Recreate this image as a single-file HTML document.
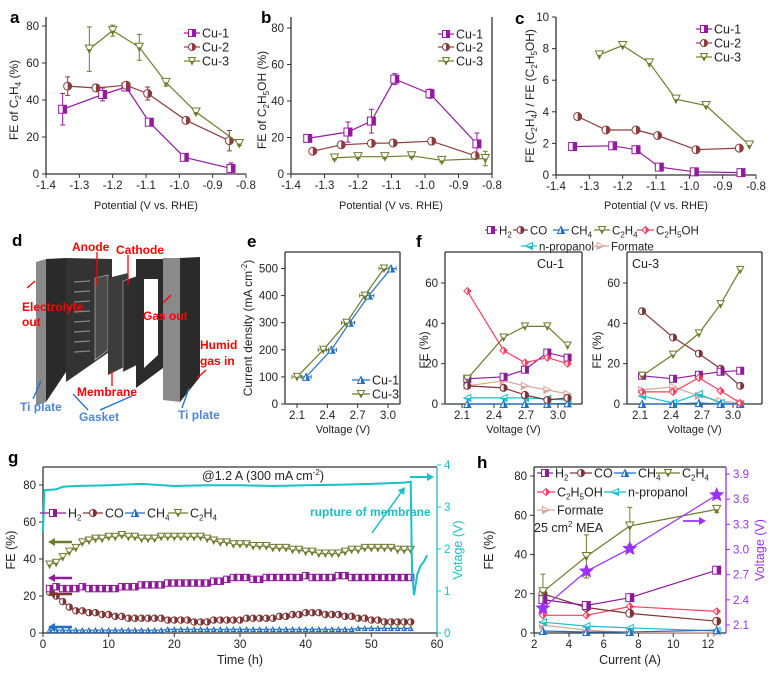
<!DOCTYPE html>
<html><head><meta charset="utf-8"><style>
html,body{margin:0;padding:0;background:#fff}
svg{display:block;font-family:"Liberation Sans",Arial,sans-serif}
</style></head><body>
<svg id="fig" width="774" height="674" viewBox="0 0 774 674" xmlns="http://www.w3.org/2000/svg">
<g id="schem">
  <polygon points="36,262 46,259 46,402 36,406" fill="#8a8a8a"/>
  <polygon points="46,259 66,258 66,372 46,402" fill="#2a2a2a"/>
  <polygon points="66,258 112,259 112,350 66,382" fill="#333"/>
  <g stroke="#888" stroke-width="1.2">
    <line x1="74" y1="282" x2="90" y2="281"/><line x1="74" y1="292" x2="90" y2="291"/><line x1="74" y1="302" x2="90" y2="301"/><line x1="74" y1="312" x2="90" y2="311"/><line x1="74" y1="322" x2="90" y2="321"/><line x1="74" y1="332" x2="90" y2="331"/><line x1="74" y1="342" x2="90" y2="341"/><line x1="74" y1="352" x2="90" y2="351"/>
  </g>
  <polygon points="95,278 108,275 108,350 95,360" fill="#4a4a4a" stroke="#ccc" stroke-width="0.6"/>
  <polygon points="108,278 128,273 128,365 108,375" fill="#3c3c3c"/>
  <polygon points="123,281 137,276 137,365 123,372" fill="#2e2e2e" stroke="#bbb" stroke-width="0.6"/>
  <polygon points="136,259 163,259 163,368 136,388" fill="#2c2c2c"/>
  <polygon points="144,279 158,279 158,355 144,368" fill="#fff"/>
  <polygon points="163,258 180,258 180,402 163,400" fill="#8a8a8a"/>
  <polygon points="180,258 200,257 200,377 180,402" fill="#2a2a2a"/>
  <g stroke="#f00" stroke-width="1.3" fill="none">
    <line x1="97" y1="252" x2="97" y2="286"/>
    <line x1="128" y1="255" x2="128" y2="285"/>
    <line x1="112" y1="386" x2="112" y2="370"/>
    <line x1="35" y1="281" x2="27" y2="288"/>
    <line x1="171" y1="295" x2="163" y2="303"/>
    <line x1="206" y1="370" x2="197" y2="378"/>
  </g>
  <g stroke="#1e6fd0" stroke-width="1.3">
    <line x1="33" y1="399" x2="41" y2="381"/>
    <line x1="88" y1="410" x2="73" y2="394"/>
    <line x1="100" y1="410" x2="132" y2="396"/>
    <line x1="182" y1="408" x2="189" y2="388"/>
  </g>
  <g font-weight="bold" font-size="12" fill="#f00">
    <text x="72" y="251">Anode</text>
    <text x="116" y="254">Cathode</text>
    <text x="22" y="311">Electrolyte</text>
    <text x="22" y="326">out</text>
    <text x="143" y="320">Gas out</text>
    <text x="200" y="349">Humid</text>
    <text x="200" y="365">gas in</text>
    <text x="77" y="396">Membrane</text>
  </g>
  <g font-weight="bold" font-size="12" fill="#4f86d6">
    <text x="20" y="411">Ti plate</text>
    <text x="79" y="421">Gasket</text>
    <text x="178" y="419">Ti plate</text>
  </g>
</g>
</svg>
<script>
// ---------- data ----------
const potX1=[-1.35,-1.23,-1.16,-1.09,-0.985,-0.845];
const potX2=[-1.335,-1.25,-1.16,-1.095,-0.98,-0.85];
const potX3=[-1.27,-1.2,-1.12,-1.04,-0.95,-0.82];
const aCu1=[35,43,47,28,9,3];const aCu1Err=[8.5,3.5,1.5,2,1.5,3];
const aCu2=[47.5,46.5,48,43.5,29,18];const aCu2Err=[5,2,1.5,3.5,1,5.5];
const aCu3=[67.5,77.5,68.5,49.5,33.5,16.5];const aCu3Err=[12,3,7,2,1,1];
const bCu1=[19.5,23,29,52,44,16.5];const bCu1Err=[1,5.5,6.5,3,2.5,6];
const bCu2=[12.5,16,16.8,17,18,10];const bCu2Err=[1,1,1,1,1,1];
const bCu3=[8.8,9.5,9.5,10,7.5,8.5];const bCu3Err=[1,1,1,1,1,4];
const cCu1=[1.8,1.85,1.6,0.5,0.2,0.15];
const cCu2=[3.7,2.85,2.85,2.5,1.6,1.7];
const cCu3=[7.6,8.2,7.1,4.8,4.4,1.9];
const eCu1V=[2.19,2.44,2.62,2.81,3.03];const eCu3V=[2.10,2.36,2.59,2.77,2.96];
const eJ=[100,200,300,400,500];
const f1V=[2.15,2.49,2.69,2.90,3.09];
const f1H2=[12.5,13.5,17,25.5,23];const f1CO=[9,8,4.5,2,3];const f1CH4=[0,0,0,0,0.3];
const f1C2H4=[12.5,33,38.5,38.5,29];const f1EtOH=[56,26.5,20.5,23,20];
const f1Prop=[3,3,3,2.5,2];const f1Form=[9,11.5,9,7,5];
const f3V=[2.12,2.42,2.67,2.88,3.07];
const f3H2=[14,12.5,14.5,16,16.5];const f3CO=[46,33,25,17.5,9];const f3CH4=[0,0,0.5,0,0];
const f3C2H4=[14,24.5,35,49.5,66.5];const f3EtOH=[6,6,13,6.5,0.5];
const f3Prop=[4,0.5,5,0.5,0];const f3Form=[7,8.5,4,1.5,0.5];
const gT=[1,2,3,4,5,6,7,8,9,10,11,12,13,14,15,16,17,18,19,20,21,22,23,24,25,26,27,28,29,30,31,32,33,34,35,36,37,38,39,40,41,42,43,44,45,46,47,48,49,50,51,52,53,54,55,56];
const gC2H4=[37,38,41,44,46,49,50,51,51,52,52,53,52,52,51,51,51,52,52,52,52,52,52,52,51,50,49,49,48,48,48,47,47,47,46,46,46,45,45,44,44,43,43,43,43,44,45,45,46,46,46,46,46,45,45,45];
const gH2=[24,25,24,24,24,25,24,24,24,24,24,25,25,25,26,26,26,26,27,27,27,27,27,27,27,28,28,29,30,30,30,29,29,30,30,30,30,30,30,31,30,30,30,30,31,31,30,30,30,30,30,30,30,30,30,30];
const gCO=[22,20,17,14,12,12,11,11,10,10,9,9,8,8,8,8,8,8,7,7,7,7,6,6,6,7,7,7,7,7,8,8,8,8,8,9,9,10,10,11,11,11,10,10,10,9,9,8,8,7,7,6,6,6,6,6];
const gCH4=[1.5,1.5,1.5,1.5,1.5,1.5,1.5,1.5,1.5,1.5,1.5,1.5,1.5,1.5,1.5,1.5,1.5,1.5,2,2,2,2,2,2,2,2,2,2,2,2,2,2,2,2,2,2,2,2,2,2,2,2,2,2,2,2,2,2.5,2.5,2.5,2.5,2.5,2.5,2.5,2.5,2.5];
const vT=[0,0.2,2,3,5,10,15,20,25,30,35,40,45,50,55,56,56.2,56.5,57,57.5,58,58.5];
const vV=[2.4,3.4,3.42,3.48,3.5,3.52,3.55,3.5,3.52,3.52,3.5,3.52,3.53,3.55,3.58,3.6,1.5,0.9,1.4,1.6,1.7,1.85];
const hI=[2.5,5,7.5,12.5];
const hH2=[17,14,18,32];const hCO=[20,13,10,6];const hCH4=[1,0.5,0.5,1.5];
const hC2H4=[21,39,54.5,63];const hC2H4Err=[9,11,9.5,1.5];
const hEtOH=[9,9,13.5,11];const hProp=[5.5,3.5,2.6,1];const hForm=[4,1.5,0.2,0.1];
const hVolt=[2.30,2.74,3.01,3.65];

// ---------- helpers ----------
const NS='http://www.w3.org/2000/svg';
const svg=document.getElementById('fig');
function mk(tag,attrs,parent){const e=document.createElementNS(NS,tag);for(const k in attrs)e.setAttribute(k,attrs[k]);(parent||svg).appendChild(e);return e;}
function lin(d0,d1,r0,r1){return v=>r0+(v-d0)*(r1-r0)/(d1-d0);}
function sb(t){return '<tspan font-size="8" dy="3">'+t+'</tspan><tspan dy="-3">\u200b</tspan>';}
function sp(t){return '<tspan font-size="8" dy="-5">'+t+'</tspan><tspan dy="5">\u200b</tspan>';}
function T(x,y,html,opts,parent,name){
  const e=mk('text',Object.assign({x:x,y:y,'font-size':11,'text-anchor':'middle',fill:'#222'},opts||{}),parent);
  e.innerHTML=html;
  
  
  return e;}
function grp(name){const g=mk('g',{});
  
  
  return g;}
const C={cu1:'#951a9e',cu2:'#8e3b3b',cu3:'#6f7a2d',h2:'#8e1a9a',co:'#7e3434',ch4:'#1f6fc6',c2h4:'#6f7a2d',etoh:'#ff3c5c',prop:'#18bfc9',form:'#d9a79c',cyan:'#19c0c8',volt:'#9b30ff'};
function marker(g,type,x,y,col,s){
  s=s||4;let a,b;
  if(type==='sq'){a=mk('rect',{x:x-s,y:y-s,width:2*s,height:2*s,fill:'#fff',stroke:col,'stroke-width':1},g);b=mk('rect',{x:x,y:y-s,width:s,height:2*s,fill:col},g);}
  else if(type==='ci'){a=mk('circle',{cx:x,cy:y,r:s,fill:'#fff',stroke:col,'stroke-width':1},g);b=mk('path',{d:`M${x},${y-s}A${s},${s} 0 0 1 ${x},${y+s}Z`,fill:col},g);}
  else if(type==='td'){a=mk('polygon',{points:`${x-s},${y-s} ${x+s},${y-s} ${x},${y+s}`,fill:'#fff',stroke:col,'stroke-width':1},g);b=mk('polygon',{points:`${x-s/2},${y} ${x+s/2},${y} ${x},${y+s}`,fill:col},g);}
  else if(type==='tu'){a=mk('polygon',{points:`${x},${y-s} ${x+s},${y+s} ${x-s},${y+s}`,fill:'#fff',stroke:col,'stroke-width':1},g);b=mk('polygon',{points:`${x},${y-s} ${x+s},${y+s} ${x},${y+s}`,fill:col},g);}
  else if(type==='tl'){a=mk('polygon',{points:`${x-s},${y} ${x+s},${y-s} ${x+s},${y+s}`,fill:'#fff',stroke:col,'stroke-width':1},g);b=mk('polygon',{points:`${x-s},${y} ${x+s},${y} ${x+s},${y+s}`,fill:col},g);}
  else if(type==='tr'){a=mk('polygon',{points:`${x+s},${y} ${x-s},${y-s} ${x-s},${y+s}`,fill:'#fff',stroke:col,'stroke-width':1},g);b=mk('polygon',{points:`${x+s},${y} ${x-s},${y} ${x-s},${y+s}`,fill:col},g);}
  else if(type==='di'){a=mk('polygon',{points:`${x},${y-s} ${x+s},${y} ${x},${y+s} ${x-s},${y}`,fill:'#fff',stroke:col,'stroke-width':1},g);b=mk('polygon',{points:`${x},${y-s} ${x+s},${y} ${x},${y+s}`,fill:col},g);}
  else if(type==='st'){let p=[];for(let i=0;i<10;i++){const r=i%2?s*0.45:s;const an=-Math.PI/2+i*Math.PI/5;p.push((x+r*Math.cos(an)).toFixed(1)+','+(y+r*Math.sin(an)).toFixed(1));}
    a=mk('polygon',{points:p.join(' '),fill:col},g);}
  
  
  if(b){
  }
}
function series(name,sx,sy,xs,ys,col,type,errs,s,xerr){
  const g=grp(name);
  const pts=xs.map((v,i)=>sx(v).toFixed(1)+','+sy(ys[i]).toFixed(1)).join(' ');
  const pl=mk('polyline',{points:pts,fill:'none',stroke:col,'stroke-width':1.2},g);
  
  
  if(errs){xs.forEach((v,i)=>{if(!errs[i])return;const X=sx(v),y1=sy(ys[i]-errs[i]),y2=sy(ys[i]+errs[i]);
    const eb=mk('path',{d:`M${X},${y1}V${y2}M${X-2.5},${y1}h5M${X-2.5},${y2}h5`,stroke:col,'stroke-width':1,fill:'none'},g);
    
    });}
  if(xerr){xs.forEach((v,i)=>{const Y=sy(ys[i]),x1=sx(v-xerr),x2=sx(v+xerr);
    const eb=mk('path',{d:`M${x1},${Y}H${x2}M${x1},${Y-2}v4M${x2},${Y-2}v4`,stroke:col,'stroke-width':1,fill:'none'},g);
    
    });}
  xs.forEach((v,i)=>marker(g,type,sx(v),sy(ys[i]),col,s));
}
function frame(name,x0,y0,x1,y1,sides){
  const g=grp(name);
  const d={l:`M${x0},${y0}V${y1}`,b:`M${x0},${y1}H${x1}`,r:`M${x1},${y0}V${y1}`,t:`M${x0},${y0}H${x1}`};
  const p=mk('path',{d:sides.split('').map(k=>d[k]).join(''),stroke:'#333','stroke-width':1.3,fill:'none'},g);
  
  
}
function xTicks(name,sx,y,vals,labels,col){
  const g=grp(name);
  vals.forEach((v,i)=>{const X=sx(v);const t=mk('line',{x1:X,x2:X,y1:y,y2:y+4,stroke:col||'#333','stroke-width':1},g);
    
    
    T(X,y+15,labels[i],{'font-size':11.5,fill:col||'#222'},g,'x-tick-label');});
}
function yTicks(name,sy,x,vals,labels,side,col){
  const g=grp(name);
  vals.forEach((v,i)=>{const Y=sy(v);const t=mk('line',{x1:x,x2:x+4*side,y1:Y,y2:Y,stroke:col||'#333','stroke-width':1},g);
    
    
    T(x+7*side,Y+4,labels[i],{'font-size':11.5,'text-anchor':side<0?'end':'start',fill:col||'#222'},g,'y-tick-label');});
}
function legEntry(name,x,y,col,type,label,w,fs){
  const g=grp(name);
  w=w||16;
  const l=mk('line',{x1:x,x2:x+w,y1:y,y2:y,stroke:col,'stroke-width':1.2},g);
  
  
  marker(g,type,x+w/2,y,col,3.5);
  T(x+w+2,y+4.5,label,{'font-size':fs||12.5,'text-anchor':'start'},g,name+'-text');
}
function panelLabel(t,x,y){T(x,y,t,{'font-size':17,'font-weight':'bold','text-anchor':'start',fill:'#000'},null,'panel-label-'+t);}
const potTicks=[-1.4,-1.3,-1.2,-1.1,-1.0,-0.9,-0.8];
const potLabels=['-1.4','-1.3','-1.2','-1.1','-1.0','-0.9','-0.8'];

// ---------- panel a ----------
panelLabel('a',10,23);
let sx=lin(-1.4,-0.8,46,246),sy=lin(0,80,174,26);
frame('panel-a-axes',46,17,246,174,'lb');
xTicks('panel-a-x-axis',sx,174,potTicks,potLabels);
yTicks('panel-a-y-axis',sy,46,[0,20,40,60,80],['0','20','40','60','80'],-1);
T(146,209,'Potential (V vs. RHE)',{},null,'panel-a-x-title');
T(18,100,'FE of C'+sb('2')+'H'+sb('4')+' (%)',{transform:'rotate(-90 18 100)','font-size':12},null,'panel-a-y-title');
series('a-cu1',sx,sy,potX1,aCu1,C.cu1,'sq',aCu1Err);
series('a-cu2',sx,sy,potX2,aCu2,C.cu2,'ci',aCu2Err);
series('a-cu3',sx,sy,potX3,aCu3,C.cu3,'td',aCu3Err);
legEntry('a-legend-cu1',184,33,C.cu1,'sq','Cu-1');
legEntry('a-legend-cu2',184,47,C.cu2,'ci','Cu-2');
legEntry('a-legend-cu3',184,61,C.cu3,'td','Cu-3');

// ---------- panel b ----------
panelLabel('b',261,23);
sx=lin(-1.4,-0.8,291,492);sy=lin(0,80,174,28);
frame('panel-b-axes',291,17,492,174,'lbr');
xTicks('panel-b-x-axis',sx,174,potTicks,potLabels);
yTicks('panel-b-y-axis',sy,291,[0,20,40,60,80],['0','20','40','60','80'],-1);
T(391,209,'Potential (V vs. RHE)',{},null,'panel-b-x-title');
T(266,100,'FE of C'+sb('2')+'H'+sb('5')+'OH (%)',{transform:'rotate(-90 266 100)','font-size':12},null,'panel-b-y-title');
series('b-cu1',sx,sy,potX1,bCu1,C.cu1,'sq',bCu1Err);
series('b-cu2',sx,sy,potX2,bCu2,C.cu2,'ci',bCu2Err);
series('b-cu3',sx,sy,potX3,bCu3,C.cu3,'td',bCu3Err);
legEntry('b-legend-cu1',438,34,C.cu1,'sq','Cu-1');
legEntry('b-legend-cu2',438,47,C.cu2,'ci','Cu-2');
legEntry('b-legend-cu3',438,61,C.cu3,'td','Cu-3');

// ---------- panel c ----------
panelLabel('c',515,24);
sx=lin(-1.4,-0.8,556,756);sy=lin(0,10,175,17);
frame('panel-c-axes',556,17,756,175,'lb');
xTicks('panel-c-x-axis',sx,175,potTicks,potLabels);
yTicks('panel-c-y-axis',sy,556,[0,2,4,6,8,10],['0','2','4','6','8','10'],-1);
T(656,209,'Potential (V vs. RHE)',{},null,'panel-c-x-title');
T(534,96,'FE (C'+sb('2')+'H'+sb('4')+') / FE (C'+sb('2')+'H'+sb('5')+'OH)',{transform:'rotate(-90 534 96)','font-size':12},null,'panel-c-y-title');
series('c-cu1',sx,sy,potX1,cCu1,C.cu1,'sq');
series('c-cu2',sx,sy,potX2,cCu2,C.cu2,'ci');
series('c-cu3',sx,sy,potX3,cCu3,C.cu3,'td');
legEntry('c-legend-cu1',696,29,C.cu1,'sq','Cu-1');
legEntry('c-legend-cu2',696,43,C.cu2,'ci','Cu-2');
legEntry('c-legend-cu3',696,57,C.cu3,'td','Cu-3');

// ---------- panel d ----------
panelLabel('d',12,246);

// ---------- panel e ----------
panelLabel('e',247,247);
sx=lin(2.1,3.0,297,388);sy=lin(0,500,404,268.5);
frame('panel-e-axes',285,252,400,404,'lbrt');
xTicks('panel-e-x-axis',sx,404,[2.1,2.4,2.7,3.0],['2.1','2.4','2.7','3.0']);
yTicks('panel-e-y-axis',sy,285,[0,100,200,300,400,500],['0','100','200','300','400','500'],-1);
T(343,433,'Voltage (V)',{},null,'panel-e-x-title');
T(252,328,'Current density (mA cm'+sp('-2')+')',{transform:'rotate(-90 252 328)','font-size':12},null,'panel-e-y-title');
series('e-cu1',sx,sy,eCu1V,eJ,C.ch4,'tu',null,3.5,0.05);
series('e-cu3',sx,sy,eCu3V,eJ,C.cu3,'td',null,3.5,0.05);
legEntry('e-legend-cu1',352,380,C.ch4,'tu','Cu-1',18);
legEntry('e-legend-cu3',352,394,C.cu3,'td','Cu-3',18);

// ---------- panel f ----------
panelLabel('f',416,247);
legEntry('f-legend-h2',485,230,C.h2,'sq','H'+sb('2'),12,11.5);
legEntry('f-legend-co',513,230,C.co,'ci','CO',15,11.5);
legEntry('f-legend-ch4',553,230,C.ch4,'tu','CH'+sb('4'),16,11.5);
legEntry('f-legend-c2h4',594,230,C.c2h4,'td','C'+sb('2')+'H'+sb('4'),16,11.5);
legEntry('f-legend-etoh',637,230,C.etoh,'di','C'+sb('2')+'H'+sb('5')+'OH',17,11.5);
legEntry('f-legend-propanol',521,246,C.prop,'tl','n-propanol',16,11.5);
legEntry('f-legend-formate',592,246,C.form,'tr','Formate',17,11.5);
function fPanel(tag,x0,x1,xa,xb,V,H2,CO,CH4,C2H4,ET,PR,FO,labelX,ytx){
  const sx=lin(2.1,3.0,xa,xb),sy=lin(0,60,404,283);
  frame('panel-f-'+tag+'-axes',x0,252,x1,404,'lbrt');
  xTicks('panel-f-'+tag+'-x-axis',sx,404,[2.1,2.4,2.7,3.0],['2.1','2.4','2.7','3.0']);
  yTicks('panel-f-'+tag+'-y-axis',sy,x0,[0,20,40,60],['0','20','40','60'],-1);
  T((x0+x1)/2,433,'Voltage (V)',{},null,'panel-f-'+tag+'-x-title');
  T(ytx,350,'FE (%)',{transform:`rotate(-90 ${ytx} 350)`,'font-size':12},null,'panel-f-'+tag+'-y-title');
  T(labelX,268,tag,{'font-size':12.5,'text-anchor':'start'},null,'panel-f-'+tag+'-title');
  series('f-'+tag+'-formate',sx,sy,V,FO,C.form,'tr',null,3.5);
  series('f-'+tag+'-propanol',sx,sy,V,PR,C.prop,'tl',null,3.5);
  series('f-'+tag+'-ch4',sx,sy,V,CH4,C.ch4,'tu',null,3.5);
  series('f-'+tag+'-co',sx,sy,V,CO,C.co,'ci',null,3.5);
  series('f-'+tag+'-h2',sx,sy,V,H2,C.h2,'sq',null,3.5);
  series('f-'+tag+'-etoh',sx,sy,V,ET,C.etoh,'di',null,3.5);
  series('f-'+tag+'-c2h4',sx,sy,V,C2H4,C.c2h4,'td',null,3.5);
}
fPanel('Cu-1',445,582,462,558,f1V,f1H2,f1CO,f1CH4,f1C2H4,f1EtOH,f1Prop,f1Form,537,428);
fPanel('Cu-3',627,762,640,733,f3V,f3H2,f3CO,f3CH4,f3C2H4,f3EtOH,f3Prop,f3Form,632,601);

// ---------- panel g ----------
panelLabel('g',8,463);
sx=lin(0,60,43,437);sy=lin(0,80,633,485);const svg_v=lin(0,4,633,465);
frame('panel-g-axes',43,467,437,633,'lbt');
const gr=grp('panel-g-right-axis');
const rl=mk('line',{x1:437,x2:437,y1:467,y2:633,stroke:C.cyan,'stroke-width':1.3},gr);


xTicks('panel-g-x-axis',sx,633,[0,10,20,30,40,50,60],['0','10','20','30','40','50','60']);
yTicks('panel-g-y-axis',sy,43,[0,20,40,60,80],['0','20','40','60','80'],-1);
yTicks('panel-g-v-axis',svg_v,437,[0,1,2,3,4],['0','1','2','3','4'],1,C.cyan);
T(240,664,'Time (h)',{'font-size':12.5},null,'panel-g-x-title');
T(15,550,'FE (%)',{transform:'rotate(-90 15 550)','font-size':12.5},null,'panel-g-y-title');
T(462,550,'Votage (V)',{transform:'rotate(-90 462 550)','font-size':12.5,fill:C.cyan},null,'panel-g-v-title');
T(263,480,'@1.2 A (300 mA cm'+sp('-2')+')',{'font-size':12.5},null,'panel-g-condition');
series('g-ch4',sx,sy,gT,gCH4,C.ch4,'tu',null,2.2);
series('g-co',sx,sy,gT,gCO,C.co,'ci',null,3.2);
series('g-h2',sx,sy,gT,gH2,C.h2,'sq',null,3.2);
series('g-c2h4',sx,sy,gT,gC2H4,C.c2h4,'td',null,3.5);
(function(){const g=grp('g-voltage');
  const p=mk('polyline',{points:vT.map((t,i)=>sx(t).toFixed(1)+','+svg_v(vV[i]).toFixed(1)).join(' '),fill:'none',stroke:C.cyan,'stroke-width':2},g);
  
  })();
legEntry('g-legend-h2',40,513,C.h2,'sq','H'+sb('2'),26);
legEntry('g-legend-co',83,513,C.co,'ci','CO',20);
legEntry('g-legend-ch4',125,513,C.ch4,'tu','CH'+sb('4'),20);
legEntry('g-legend-c2h4',168,513,C.c2h4,'td','C'+sb('2')+'H'+sb('4'),20);
T(310,516,'rupture of membrane',{'font-size':12,'font-weight':'bold','text-anchor':'start',fill:C.cyan},null,'rupture-annotation');
function arrow(name,x1,y1,x2,y2,col,w){const g=grp(name);
  const a=Math.atan2(y2-y1,x2-x1),h=7;
  const l=mk('line',{x1:x1,y1:y1,x2:x2-Math.cos(a)*h*0.7,y2:y2-Math.sin(a)*h*0.7,stroke:col,'stroke-width':w||2},g);
  
  
  const hd=mk('polygon',{points:`${x2},${y2} ${x2-h*Math.cos(a)+4*Math.sin(a)},${y2-h*Math.sin(a)-4*Math.cos(a)} ${x2-h*Math.cos(a)-4*Math.sin(a)},${y2-h*Math.sin(a)+4*Math.cos(a)}`,fill:col},g);
  
  }
arrow('rupture-arrow',372,533,405,487,C.cyan,1.5);
arrow('voltage-axis-arrow',410,477,434,477,C.cyan,2);
arrow('c2h4-axis-arrow',72,542,48,542,C.c2h4,2.5);
arrow('h2-axis-arrow',72,578,48,578,C.h2,2.5);
arrow('co-axis-arrow',72,594,48,594,C.co,2.5);
arrow('ch4-axis-arrow',72,627,48,627,C.ch4,2.5);

// ---------- panel h ----------
panelLabel('h',477,468);
sx=lin(4,12,569,708);sy=lin(0,80,633,476);const shv=lin(2.1,3.9,625,474);
frame('panel-h-axes',534,467,726,633,'lbt');
const hr=grp('panel-h-right-axis');
const hrl=mk('line',{x1:726,x2:726,y1:467,y2:633,stroke:C.volt,'stroke-width':1.3},hr);


xTicks('panel-h-x-axis',sx,633,[2,4,6,8,10,12],['2','4','6','8','10','12']);
yTicks('panel-h-y-axis',sy,534,[0,20,40,60,80],['0','20','40','60','80'],-1);
yTicks('panel-h-v-axis',shv,726,[2.1,2.4,2.7,3.0,3.3,3.6,3.9],['2.1','2.4','2.7','3.0','3.3','3.6','3.9'],1,C.volt);
T(630,664,'Current (A)',{'font-size':12.5},null,'panel-h-x-title');
T(493,550,'FE (%)',{transform:'rotate(-90 493 550)','font-size':12.5},null,'panel-h-y-title');
T(764,550,'Voltage (V)',{transform:'rotate(-90 764 550)','font-size':12.5,fill:C.volt},null,'panel-h-v-title');
series('h-formate',sx,sy,hI,hForm,C.form,'tr',null,3.5);
series('h-propanol',sx,sy,hI,hProp,C.prop,'tl',null,3.5);
series('h-ch4',sx,sy,hI,hCH4,C.ch4,'tu',null,3.5);
series('h-etoh',sx,sy,hI,hEtOH,C.etoh,'di',null,3.5);
series('h-co',sx,sy,hI,hCO,C.co,'ci',null,4);
series('h-h2',sx,sy,hI,hH2,C.h2,'sq',null,4);
series('h-c2h4',sx,sy,hI,hC2H4,C.c2h4,'td',hC2H4Err,4);
series('h-voltage',sx,shv,hI,hVolt,C.volt,'st',null,8);
legEntry('h-legend-h2',537,473,C.h2,'sq','H'+sb('2'),16);
legEntry('h-legend-co',570,473,C.co,'ci','CO',22);
legEntry('h-legend-ch4',614,473,C.ch4,'tu','CH'+sb('4'),22);
legEntry('h-legend-c2h4',656,473,C.c2h4,'td','C'+sb('2')+'H'+sb('4'),24);
legEntry('h-legend-etoh',537,492,C.etoh,'di','C'+sb('2')+'H'+sb('5')+'OH',18);
legEntry('h-legend-propanol',604,492,C.prop,'tl','n-propanol',22);
legEntry('h-legend-formate',537,510,C.form,'tr','Formate',18);
T(534,532,'25 cm'+sp('2')+' MEA',{'font-size':12.5,'text-anchor':'start'},null,'mea-area-label');
arrow('voltage-arrow-h',683,521,706,521,C.volt,1.8);
</script>
</body></html>
